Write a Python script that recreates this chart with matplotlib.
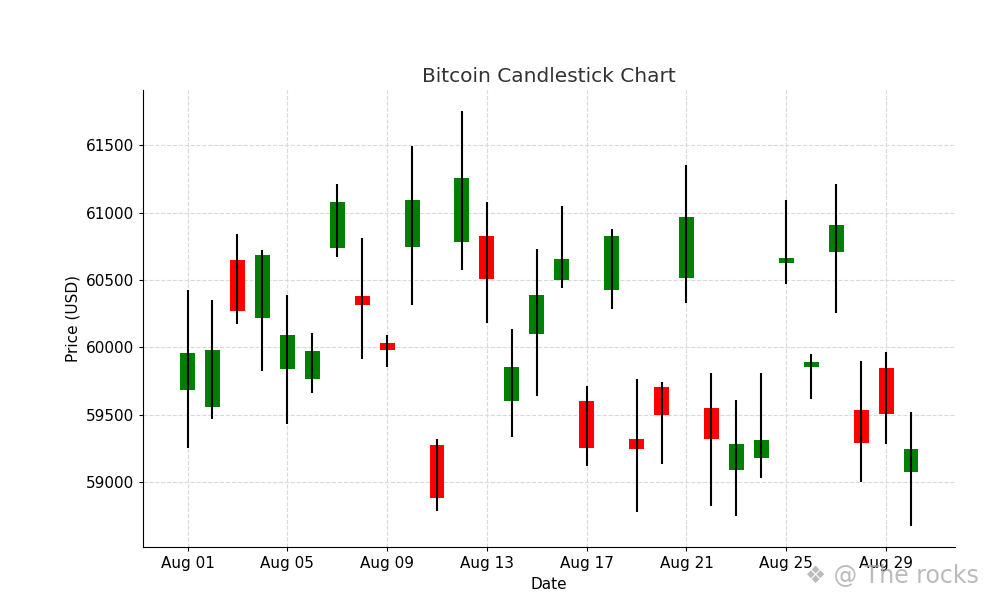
import matplotlib
matplotlib.use("Agg")
import matplotlib.pyplot as plt
import matplotlib.dates as mdates
import numpy as np
import pandas as pd

# daily OHLC values
dates = pd.date_range("2024-08-01", "2024-08-30", freq="D")
opens = [59684, 59559, 60650, 60216, 59835, 59766, 60734, 60384, 60029, 60746,
         59275, 60783, 60827, 59600, 60096, 60500, 59600, 60423, 59315, 59704,
         60512, 59549, 59090, 59174, 60625, 59852, 60704, 59534, 59842, 59076]
closes = [59960, 59977, 60271, 60687, 60088, 59970, 61079, 60315, 59980, 61093,
          58879, 61259, 60507, 59852, 60389, 60652, 59251, 60827, 59241, 59497,
          60968, 59317, 59283, 59310, 60665, 59889, 60911, 59285, 59502, 59243]
highs = [60428, 60349, 60842, 60724, 60386, 60106, 61212, 60810, 60093, 61493,
         59320, 61756, 61079, 60133, 60731, 61049, 59714, 60879, 59763, 59741,
         61352, 59812, 59610, 59805, 61096, 59953, 61212, 59901, 59968, 59517]
lows = [59248, 59470, 60172, 59827, 59433, 59662, 60672, 59913, 59854, 60315,
        58787, 60574, 60179, 59332, 59637, 60443, 59115, 60283, 58773, 59130,
        60325, 58824, 58750, 59026, 60468, 59618, 60256, 58997, 59283, 58669]

o = np.array(opens)
c = np.array(closes)
colors = np.where(c >= o, "green", "red")

fig = plt.figure(figsize=(9.87, 6.0), dpi=100)
ax = fig.add_axes([0.145, 0.088, 0.823, 0.762])

x = mdates.date2num(dates)
ax.grid(True, linestyle="--", color="#d9d9d9", linewidth=0.8, zorder=0)
ax.bar(x, np.abs(c - o), bottom=np.minimum(o, c), width=0.6, color=colors, zorder=2)
ax.vlines(x, lows, highs, color="black", linewidth=1.5, zorder=3)

ax.xaxis.set_major_locator(mdates.DayLocator(bymonthday=[1, 5, 9, 13, 17, 21, 25, 29]))
ax.xaxis.set_major_formatter(mdates.DateFormatter("%b %d"))
ax.set_yticks([59000, 59500, 60000, 60500, 61000, 61500])
ax.tick_params(labelsize=11, length=3)

ax.spines["top"].set_visible(False)
ax.spines["right"].set_visible(False)

ax.set_title("Bitcoin Candlestick Chart", fontsize=14.5, color="#333333")
ax.set_xlabel("Date", fontsize=11)
ax.set_ylabel("Price (USD)", fontsize=11)

fig.text(0.992, 0.04, "\u2756 @ The rocks", ha="right", va="center",
         fontsize=17, color="#aaaaaa", alpha=0.8)

fig.savefig("out.png", dpi=100)
